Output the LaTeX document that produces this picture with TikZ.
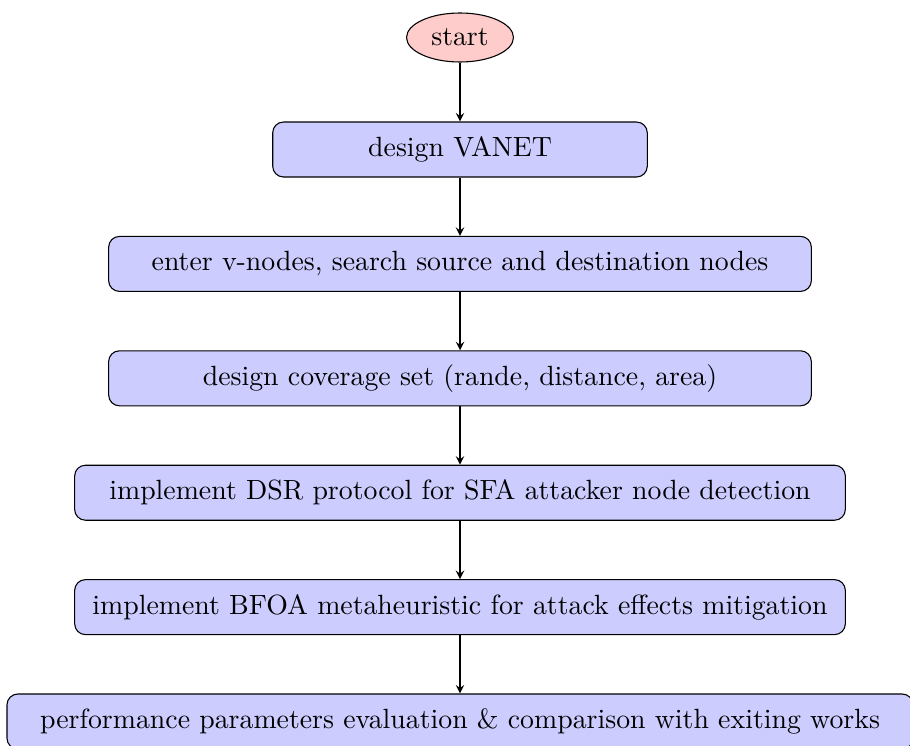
\documentclass[tikz,border=0pt]{standalone}
\usetikzlibrary{shapes.geometric}
\begin{document}
\begin{tikzpicture}[x=0.37037pt,y=-0.37037pt,
  every node/.append style={font=\fontsize{10.3}{12.4}\selectfont},
  startstop/.style={ellipse, draw, fill=red!20, minimum width=39.6pt,
    minimum height=18.15pt, inner sep=0pt},
  process/.style={rectangle, rounded corners, draw, fill=blue!20,
    minimum height=20.37pt, inner sep=0pt},
  flow/.style={-stealth}]
\useasboundingbox (0,0) rectangle (910,745);

% flowchart steps
\node[startstop] (start) at (460,37.5) {start};
\node[process, minimum width=138.74pt] (s1) at (460,149.5) {design VANET};
\node[process, minimum width=260.26pt] (s2) at (460,263.9)
  {enter v-nodes, search source and destination nodes};
\node[process, minimum width=260.26pt] (s3) at (460,378.3)
  {design coverage set (rande, distance, area)};
\node[process, minimum width=285.44pt] (s4) at (460,492.7)
  {implement DSR protocol for SFA attacker node detection};
\node[process, minimum width=285.44pt] (s5) at (460,607.1)
  {implement BFOA metaheuristic for attack effects mitigation};
\node[process, minimum width=335.56pt] (s6) at (460,721.5)
  {performance parameters evaluation \& comparison with exiting works};

% connectors
\draw[flow] (start) -- (s1);
\draw[flow] (s1) -- (s2);
\draw[flow] (s2) -- (s3);
\draw[flow] (s3) -- (s4);
\draw[flow] (s4) -- (s5);
\draw[flow] (s5) -- (s6);
\end{tikzpicture}
\end{document}
